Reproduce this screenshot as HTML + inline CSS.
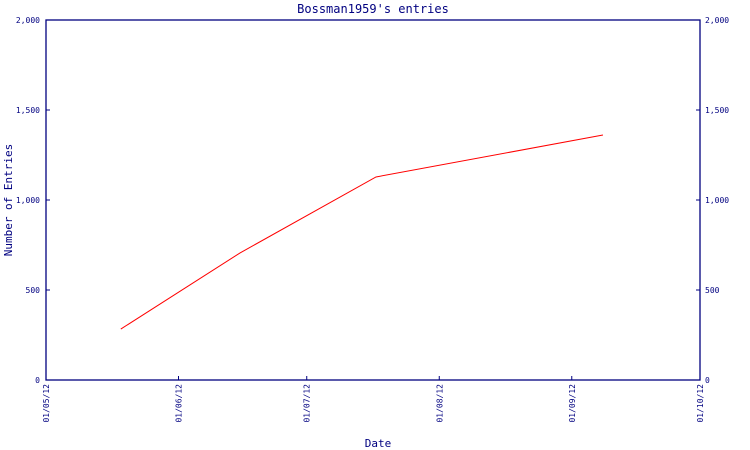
<!DOCTYPE html>
<html><head><meta charset="utf-8"><style>
body{margin:0;background:#fff;}
svg{display:block;font-family:"DejaVu Sans Mono","Liberation Mono",monospace;}
</style></head><body>
<svg id="c" width="750" height="450" xmlns="http://www.w3.org/2000/svg">
<text x="373" y="13" text-anchor="middle" font-size="12" fill="#000080">Bossman1959's entries</text>
<text x="378" y="447" text-anchor="middle" font-size="11" fill="#000080">Date</text>
<text transform="translate(12,200) rotate(-90)" text-anchor="middle" font-size="11" fill="#000080">Number of Entries</text>
<rect x="46" y="20" width="654" height="360" fill="none" stroke="#000080" stroke-width="1.3"/>
<g id="ticks"></g>
<g id="series"></g>
</svg>
<script>
const xTickLabels=["01/05/12","01/06/12","01/07/12","01/08/12","01/09/12","01/10/12"];
const xTickDays=[0,31,61,92,123,153];
const yTicks=[0,500,1000,1500,2000];
const yTickLabels=["0","500","1,000","1,500","2,000"];
const pointDays=[17.5,45.4,77.2,130.3];
const pointValues=[283,706,1128,1361];
const L=46,R=700,T=20,B=380,DMAX=153,VMAX=2000;
const xs=d=>L+(R-L)*d/DMAX, ys=v=>B-(B-T)*v/VMAX;
const NS="http://www.w3.org/2000/svg";
const tg=document.getElementById('ticks');
function mk(t,a,p){const e=document.createElementNS(NS,t);for(const k in a)e.setAttribute(k,a[k]);p.appendChild(e);return e;}
yTicks.forEach((v,i)=>{
  const y=ys(v);
  const l1=mk('line',{x1:L,x2:L+4,y1:y,y2:y,stroke:'#000080'},tg);
  
  
  const l2=mk('line',{x1:R-4,x2:R,y1:y,y2:y,stroke:'#000080'},tg);
  
  
  const t1=mk('text',{x:L-6,y:y+3,'text-anchor':'end','font-size':8,fill:'#000080'},tg);
  t1.textContent=yTickLabels[i];
  
  
  const t2=mk('text',{x:R+5,y:y+3,'font-size':8,fill:'#000080'},tg);
  t2.textContent=yTickLabels[i];
  
  
});
xTickDays.forEach((d,i)=>{
  const x=xs(d);
  const l=mk('line',{x1:x,x2:x,y1:B-4,y2:B,stroke:'#000080'},tg);
  
  
  const t=mk('text',{transform:`translate(${x+3},${B+4}) rotate(-90)`,'text-anchor':'end','font-size':8,fill:'#000080'},tg);
  t.textContent=xTickLabels[i];
  
  
});
const pts=pointDays.map((d,i)=>xs(d)+','+ys(pointValues[i])).join(' ');
const pl=mk('polyline',{points:pts,fill:'none',stroke:'#ff0000','stroke-width':1},document.getElementById('series'));


</script>
</body></html>
